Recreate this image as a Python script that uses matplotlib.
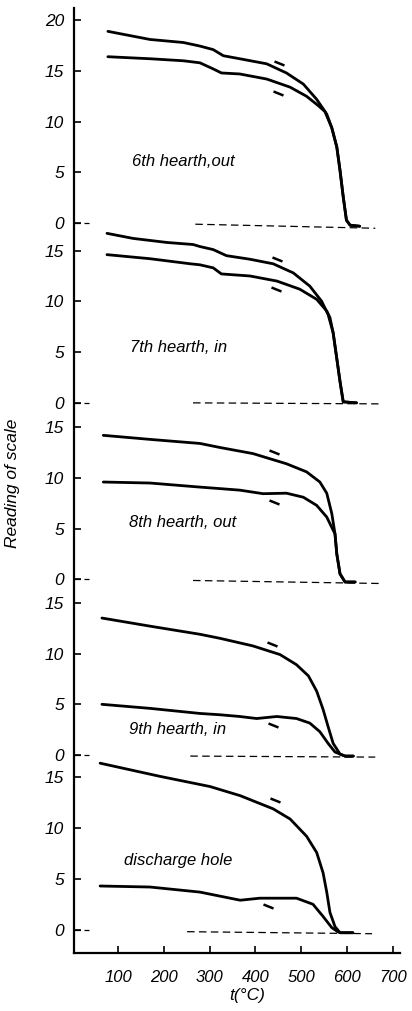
import matplotlib
matplotlib.use('Agg')
import matplotlib.pyplot as plt
from matplotlib.markers import MarkerStyle
from matplotlib.transforms import Affine2D

# panel names, top to bottom
labels = ['6th hearth,out', '7th hearth, in', '8th hearth, out', '9th hearth, in', 'discharge hole']

# upper curve of each panel (temperature, reading)
upper_t = [
	[78, 170, 243, 279, 308, 330, 366, 425, 468, 505, 534, 556, 567, 578, 585, 592, 599, 607, 628],
	[76, 133, 207, 264, 279, 308, 337, 388, 439, 483, 519, 545, 559, 570, 578, 585, 592, 621],
	[68, 170, 279, 323, 395, 468, 512, 541, 556, 567, 574, 578, 585, 596, 618],
	[65, 170, 279, 323, 395, 454, 490, 516, 534, 548, 559, 570, 585, 596, 614],
	[61, 192, 301, 367, 439, 476, 512, 534, 548, 556, 563, 574, 585, 613],
]
upper_v = [
	[18.9, 18.1, 17.8, 17.45, 17.1, 16.5, 16.2, 15.7, 14.8, 13.7, 12.2, 10.75, 9.4, 7.5, 5.2, 2.6, 0.3, -0.2, -0.3],
	[16.7, 16.2, 15.8, 15.6, 15.4, 15.1, 14.5, 14.15, 13.7, 12.8, 11.5, 10.0, 8.7, 6.9, 4.35, 2.1, 0.1, 0.0],
	[14.2, 13.8, 13.4, 13.0, 12.4, 11.4, 10.6, 9.6, 8.5, 6.5, 4.5, 2.5, 0.55, -0.25, -0.25],
	[13.5, 12.7, 11.9, 11.5, 10.75, 9.9, 8.9, 7.8, 6.3, 4.5, 2.8, 1.15, 0.1, -0.1, -0.1],
	[16.4, 15.1, 14.1, 13.2, 11.9, 10.9, 9.2, 7.6, 5.6, 3.7, 1.7, 0.3, -0.3, -0.3],
]

# lower curve of each panel
lower_t = [
	[78, 170, 243, 279, 308, 326, 366, 425, 476, 512, 537, 552, 567, 578, 585, 592, 599, 607, 628],
	[76, 170, 258, 279, 308, 326, 388, 447, 497, 534, 556, 563, 570, 578, 585, 592, 621],
	[68, 170, 279, 323, 366, 417, 468, 505, 534, 556, 570, 574, 578, 585, 596, 618],
	[65, 170, 279, 323, 366, 403, 447, 490, 519, 541, 559, 574, 585, 596, 614],
	[61, 170, 279, 367, 410, 490, 526, 548, 567, 580, 585, 613],
]
lower_v = [
	[16.4, 16.2, 16.0, 15.8, 15.2, 14.8, 14.7, 14.2, 13.4, 12.5, 11.6, 11.0, 9.4, 7.5, 5.2, 2.6, 0.3, -0.2, -0.3],
	[14.6, 14.2, 13.7, 13.6, 13.3, 12.7, 12.5, 12.0, 11.2, 10.2, 9.05, 8.4, 6.9, 4.35, 2.1, 0.1, 0.0],
	[9.6, 9.5, 9.1, 8.95, 8.8, 8.45, 8.5, 8.1, 7.3, 6.15, 4.85, 4.5, 2.5, 0.55, -0.25, -0.25],
	[5.0, 4.6, 4.1, 3.97, 3.8, 3.6, 3.8, 3.6, 3.15, 2.3, 1.15, 0.3, 0.1, -0.1, -0.1],
	[4.3, 4.2, 3.7, 2.9, 3.1, 3.1, 2.5, 1.3, 0.2, -0.2, -0.3, -0.3],
]

# small direction marks next to the curves
mark_t = [[451, 450], [447, 445], [441, 441], [437, 439], [443, 428]]
mark_v = [[15.8, 12.8], [14.2, 11.2], [12.6, 7.6], [10.95, 3.0], [12.8, 2.3]]

# dashed zero lines (start t, end t, start v, end v)
base_t = [[269, 662], [264, 669], [264, 677], [258, 662], [251, 655]]
base_v = [[-0.1, -0.5], [0.0, -0.1], [-0.1, -0.4], [-0.1, -0.2], [-0.2, -0.4]]

# label positions
label_t = [131, 127, 124, 124, 113]
label_v = [6.1, 5.5, 5.6, 2.5, 6.8]

# y ticks per panel
panel_ticks = [[0, 5, 10, 15, 20], [0, 5, 10, 15], [0, 5, 10, 15], [0, 5, 10, 15], [0, 5, 10, 15]]
x_ticks = [100, 200, 300, 400, 500, 600, 700]

# vertical offset of each panel's zero in the stacked axis
offsets = [71.9, 54.2, 36.8, 19.5, 2.3]

font = ['Liberation Sans', 'DejaVu Sans']

fig = plt.figure(figsize=(4.12, 10.11), dpi=100)
ax = fig.add_axes([74/412, 1 - 953/1011, 326/412, 945/1011])
ax.set_xlim(4, 716)
ax.set_ylim(0, 93.1)

for i in range(5):
	off = offsets[i]
	ax.plot(upper_t[i], [v + off for v in upper_v[i]], color='black', lw=2.0, solid_capstyle='round', solid_joinstyle='round')
	ax.plot(lower_t[i], [v + off for v in lower_v[i]], color='black', lw=2.0, solid_capstyle='round', solid_joinstyle='round')
	ax.plot(base_t[i], [v + off for v in base_v[i]], color='black', lw=0.9, linestyle=(0, (6, 3.5)))
	# dashed zero tick by the axis
	ax.plot([4, 36], [off, off], color='black', lw=0.9, linestyle=(0, (5, 3)))
	m = MarkerStyle('_', transform=Affine2D().rotate_deg(-22))
	for t, v in zip(mark_t[i], mark_v[i]):
		ax.plot(t, v + off, marker=m, markersize=7, mew=1.8, color='black', linestyle='none')
	ax.text(label_t[i], label_v[i] + off, labels[i], fontsize=12, style='italic', family=font, va='center', ha='left')

yt = []
yl = []
for i in range(5):
	for v in panel_ticks[i]:
		yt.append(v + offsets[i])
		yl.append(str(v))
ax.set_yticks(yt)
ax.set_yticklabels(yl, fontsize=12.5, style='italic', family=font)
ax.set_xticks(x_ticks)
ax.set_xticklabels([str(x) for x in x_ticks], fontsize=12, style='italic', family=font)
ax.tick_params(axis='y', direction='in', length=5, width=1.2, pad=7)
ax.tick_params(axis='x', direction='in', length=5, width=1.2, pad=12)

ax.spines['top'].set_visible(False)
ax.spines['right'].set_visible(False)
ax.spines['left'].set_linewidth(1.6)
ax.spines['bottom'].set_linewidth(1.6)

ax.set_xlabel('t(°C)', fontsize=12.5, style='italic', family=font)
ax.xaxis.set_label_coords(0.53, -0.037)
ax.set_ylabel('Reading of scale', fontsize=12.5, style='italic', family=font)
ax.yaxis.set_label_coords(-0.166, 0.497)

fig.savefig('out.png', dpi=100)
